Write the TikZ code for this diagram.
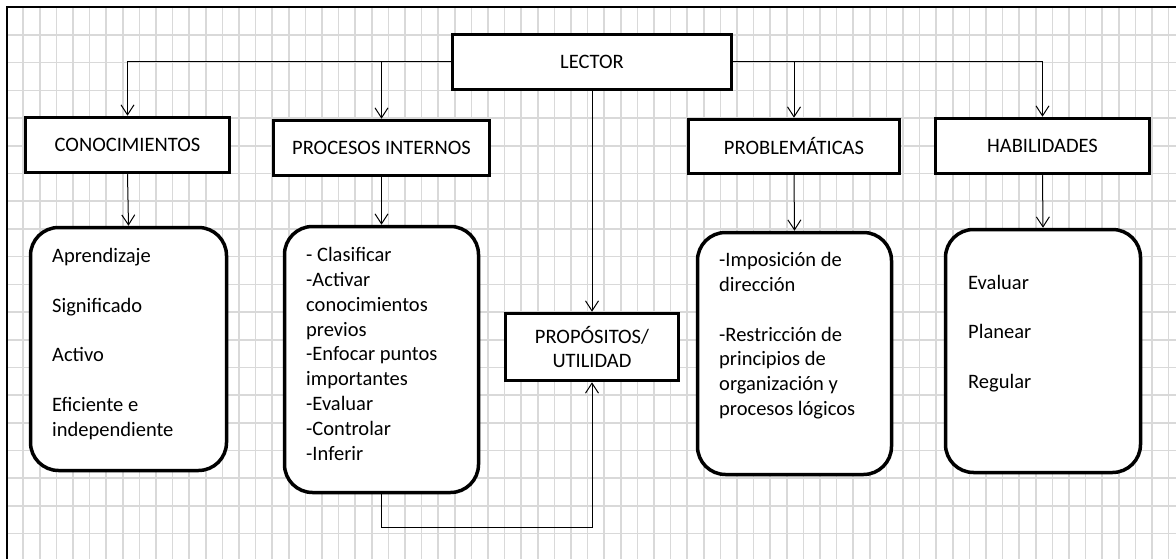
\documentclass[tikz,border=0pt]{standalone}
\usepackage{fontspec}
\setmainfont{Carlito}
\usetikzlibrary{arrows.meta}
\definecolor{gridgray}{RGB}{217,217,217}

\begin{document}
\begin{tikzpicture}[x=1pt,y=-1pt,
  hdr/.style={draw,line width=3.5pt,fill=white,inner sep=0pt,align=center},
  lst/.style={draw,line width=3.5pt,fill=white,rounded corners=28pt},
  txt/.style={anchor=base west,inner sep=0pt,align=left},
  con/.style={line width=1pt,-{Straight Barb[length=10pt,width=13pt]}},
  font=\fontsize{20.5}{24.8}\selectfont]

\useasboundingbox (0,0) rectangle (1176,559) ;

\begin{scope}
\clip (0,0) rectangle (1176,559) ;
\foreach \i in {1,...,70} \draw[gridgray,line width=1.6pt] ({6.67+16.6*\i},7.3) -- ({6.67+16.6*\i},559) ;
\foreach \j in {1,...,19} \draw[gridgray,line width=1.6pt] (6.67,{7.3+27.7*\j}) -- (1176,{7.3+27.7*\j}) ;
\end{scope}

\draw[line width=2pt] (6.67,559) -- (6.67,7.3) -- (1176,7.3) ;

\node[hdr,minimum width=279pt,minimum height=55pt] (lector) at (592,62) {LECTOR} ;

\node[hdr,minimum width=204pt,minimum height=55pt] (conoc) at (127.5,145) {CONOCIMIENTOS} ;
\node[hdr,minimum width=216pt,minimum height=55pt] (procint) at (381.5,148) {PROCESOS INTERNOS} ;
\node[hdr,minimum width=211pt,minimum height=54pt] (problem) at (794,146.5) {PROBLEMÁTICAS} ;
\node[hdr,minimum width=214pt,minimum height=55pt] (habil) at (1042.5,146) {HABILIDADES} ;

\node[hdr,minimum width=173pt,minimum height=67pt] (propos) at (592,347) {PROPÓSITOS/\\UTILIDAD} ;

\node[lst,minimum width=196pt,minimum height=243pt] (conoclist) at (128.5,349) {} ;
\node[lst,minimum width=194pt,minimum height=266pt] (proclist) at (381.5,359.5) {} ;
\node[lst,minimum width=194pt,minimum height=242pt] (problist) at (794.5,353.5) {} ;
\node[lst,minimum width=195pt,minimum height=243pt] (habillist) at (1043,351) {} ;

\node[txt] (conoctxt) at (52,436.3) {Aprendizaje\\[24.8pt]Significado\\[24.8pt]Activo\\[24.8pt]Eficiente e\\independiente} ;
\node[txt] (proctxt) at (306,460) {- Clasificar\\-Activar\\conocimientos\\previos\\-Enfocar puntos\\importantes\\-Evaluar\\-Controlar\\-Inferir} ;
\node[txt] (probtxt) at (719,415.5) {-Imposición de\\dirección\\[24.8pt]-Restricción de\\principios de\\organización y\\procesos lógicos} ;
\node[txt] (habiltxt) at (968,388.5) {Evaluar\\[24.8pt]Planear\\[24.8pt]Regular} ;

\coordinate (low) at (592,527) ;

\draw[con] (lector.west) -| (conoc.north) ;
\draw[con] (procint.north |- lector.west) -- (procint.north) ;
\draw[con] (lector.east) -| (habil.north) ;
\draw[con] (problem.north |- lector.east) -- (problem.north) ;
\draw[con] (lector.south) -- (propos.north) ;

\draw[con] (conoc.south) -- (conoclist.north) ;
\draw[con] (procint.south) -- (proclist.north) ;
\draw[con] (problem.south) -- (problist.north) ;
\draw[con] (habil.south) -- (habillist.north) ;

\draw[con] (proclist.south) |- (low) -- (propos.south) ;

\end{tikzpicture}
\end{document}
